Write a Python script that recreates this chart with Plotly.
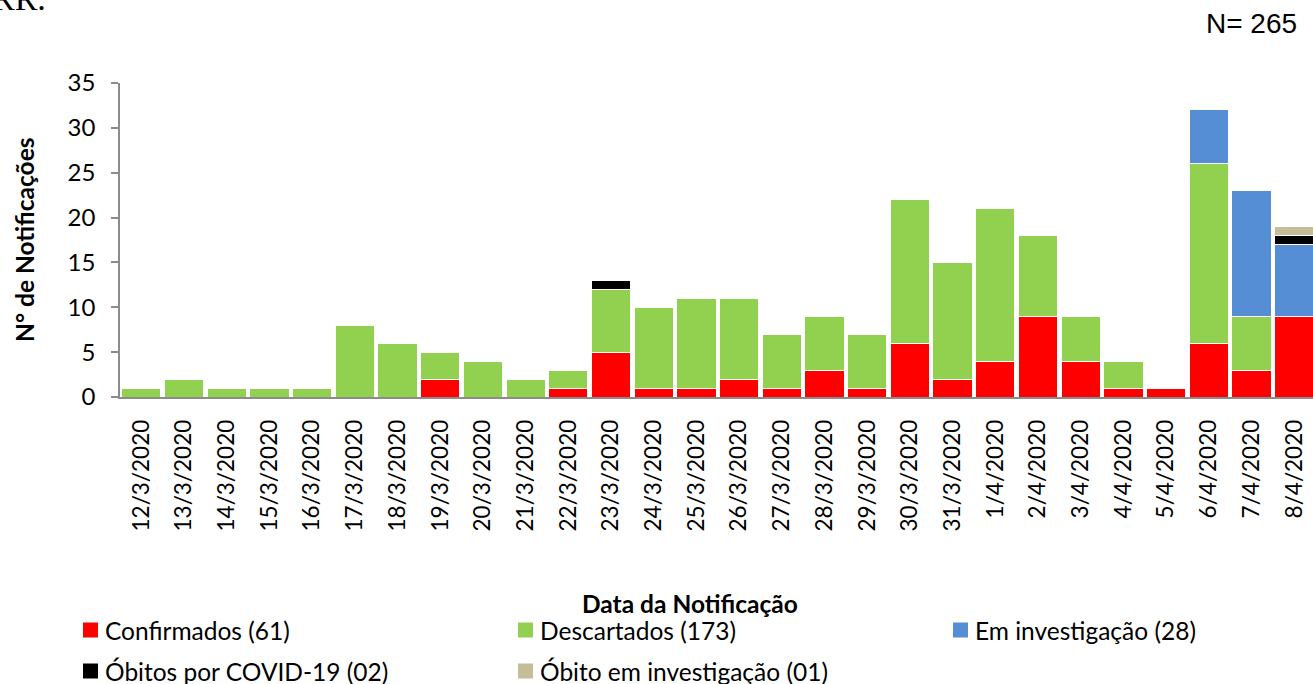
import plotly.graph_objects as go

dates = ["12/3/2020", "13/3/2020", "14/3/2020", "15/3/2020", "16/3/2020", "17/3/2020",
         "18/3/2020", "19/3/2020", "20/3/2020", "21/3/2020", "22/3/2020", "23/3/2020",
         "24/3/2020", "25/3/2020", "26/3/2020", "27/3/2020", "28/3/2020", "29/3/2020",
         "30/3/2020", "31/3/2020", "1/4/2020", "2/4/2020", "3/4/2020", "4/4/2020",
         "5/4/2020", "6/4/2020", "7/4/2020", "8/4/2020"]

confirmados = [0, 0, 0, 0, 0, 0, 0, 2, 0, 0, 1, 5, 1, 1, 2, 1, 3, 1, 6, 2, 4, 9, 4, 1, 1, 6, 3, 9]
descartados = [1, 2, 1, 1, 1, 8, 6, 3, 4, 2, 2, 7, 9, 10, 9, 6, 6, 6, 16, 13, 17, 9, 5, 3, 0, 20, 6, 0]
em_investigacao = [0] * 25 + [6, 14, 8]
obitos_covid = [0] * 11 + [1] + [0] * 15 + [1]
obito_investigacao = [0] * 27 + [1]

series_names = ["Confirmados (61)", "Descartados (173)", "Em investigação (28)",
                "Óbitos por COVID-19 (02)", "Óbito em investigação (01)"]
series_values = [confirmados, descartados, em_investigacao, obitos_covid, obito_investigacao]
colors = ["#FF0000", "#92D050", "#558ED5", "#000000", "#C4BD97"]

W, H = 1313, 684
L, R, T, B = 120, 0, 83, 287
PW, PH = W - L - R, H - T - B

def px(x):
    return (x - L) / PW

def py(y):
    return (H - B - y) / PH

FONT = "Lato"

fig = go.Figure()
for name, vals, col in zip(series_names, series_values, colors):
    fig.add_trace(go.Bar(
        x=dates, y=vals, name=name,
        marker=dict(color=col, line=dict(color="white", width=1)),
        showlegend=False,
    ))

fig.update_layout(
    width=W, height=H,
    margin=dict(l=L, r=R, t=T, b=B, autoexpand=False),
    barmode="stack", bargap=0.08,
    plot_bgcolor="white", paper_bgcolor="white",
    font=dict(family=FONT, color="black"),
    xaxis=dict(
        type="category", range=[-0.5, 27.44],
        tickangle=-90, tickfont=dict(size=22.5, family=FONT),
        showline=True, linecolor="#8C8C8C", linewidth=1.5,
        ticks="", showgrid=False, ticklabelstandoff=12, automargin=False,
    ),
    yaxis=dict(
        range=[0, 35], dtick=5, tickfont=dict(size=24, family=FONT),
        showline=True, linecolor="#8C8C8C", linewidth=1.5,
        ticks="outside", ticklen=7, tickcolor="#8C8C8C", tickwidth=1.5,
        showgrid=False, zeroline=False, ticklabelstandoff=11, automargin=False,
    ),
)

annotations = [
    dict(text="<b>N° de Notificações</b>", x=px(24), y=py(240), textangle=-90,
         xanchor="center", yanchor="middle", font=dict(size=24.5, family=FONT)),
    dict(text="<b>Data da Notificação</b>", x=px(690), y=py(603),
         xanchor="center", yanchor="middle", font=dict(size=24.5, family=FONT)),
    dict(text="N= 265", x=px(1299), y=py(24), xanchor="right", yanchor="middle",
         font=dict(size=28, family="Liberation Sans")),
    dict(text="RR.", x=px(48), y=py(-22), xanchor="right", yanchor="top",
         font=dict(size=34, family="Liberation Serif")),
]

legend_pos = [(83, 630), (518, 630), (953, 630), (83, 671), (518, 671)]
shapes = []
for name, col, (lx, ly) in zip(series_names, colors, legend_pos):
    shapes.append(dict(type="rect", xref="paper", yref="paper",
                       x0=px(lx), x1=px(lx + 15), y0=py(ly + 7.5), y1=py(ly - 7.5),
                       fillcolor=col, line=dict(width=0)))
    annotations.append(dict(text=name, x=px(lx + 20), y=py(ly), xanchor="left",
                            yanchor="middle", font=dict(size=24.5, family=FONT)))

for a in annotations:
    a.setdefault("xref", "paper")
    a.setdefault("yref", "paper")
    a.setdefault("showarrow", False)

fig.update_layout(annotations=annotations, shapes=shapes)
fig.write_html("out.html", config={"displayModeBar": False},
               post_script="document.body.style.margin='0';document.body.style.overflow='hidden';")
